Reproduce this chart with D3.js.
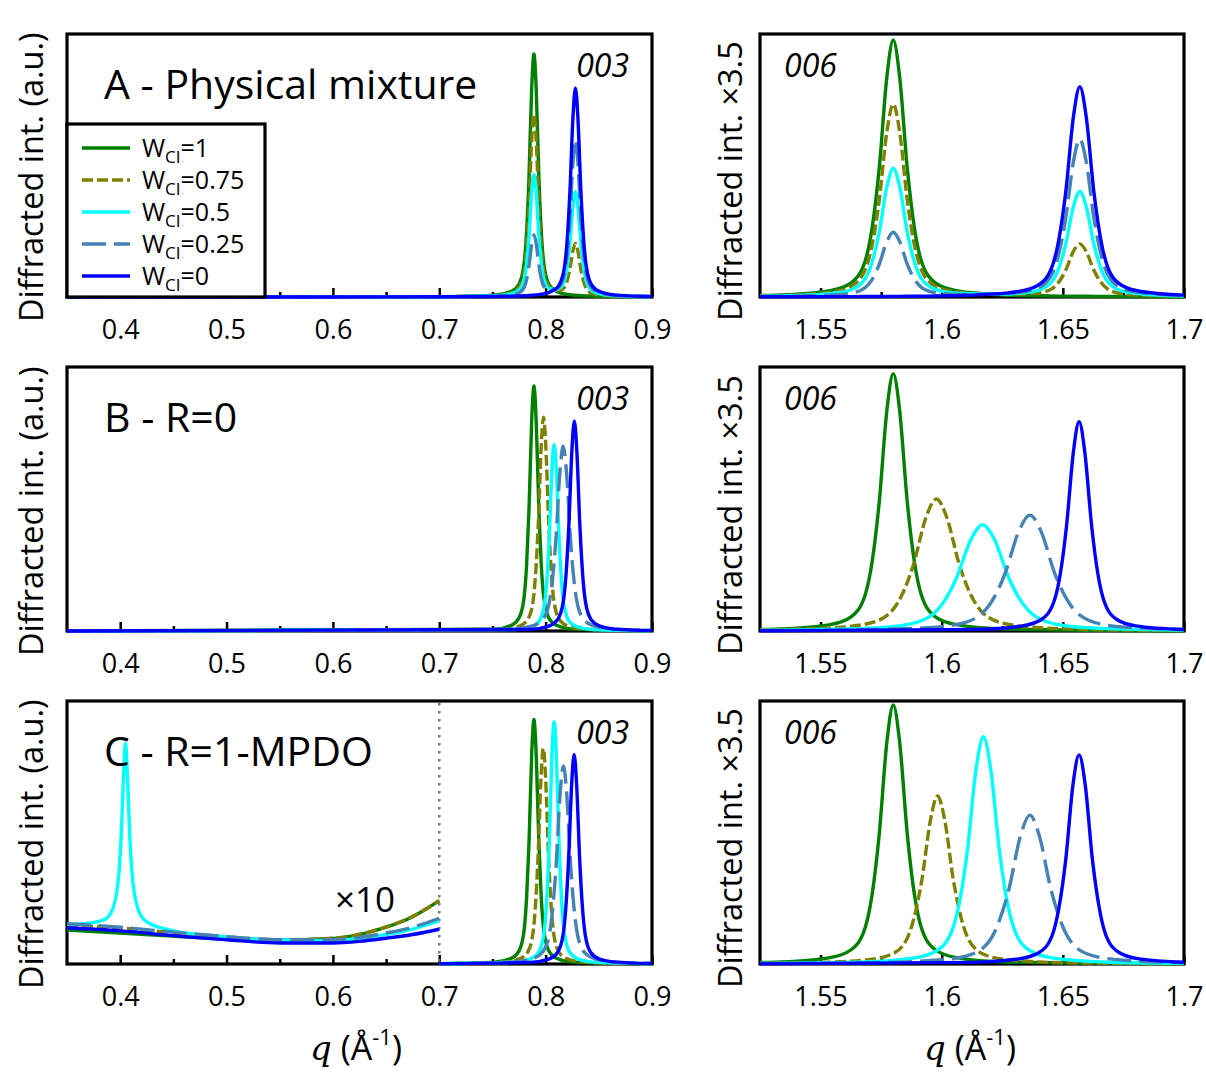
<!DOCTYPE html>
<html><head><meta charset="utf-8">
<script src="https://cdn.jsdelivr.net/npm/d3@7"></script>
<style>body{margin:0;background:#fff} svg{display:block} text{font-family:"Open Sans",sans-serif;fill:#000}</style>
</head><body><svg id="c" width="1206" height="1072"></svg>
<script>
// ---------------- DATA ----------------
const legendValues = ["1", "0.75", "0.5", "0.25", "0"];
const leftTicks = [0.4, 0.5, 0.6, 0.7, 0.8, 0.9];
const leftTickLabels = ["0.4", "0.5", "0.6", "0.7", "0.8", "0.9"];
const leftMinor = [0.45, 0.55, 0.65, 0.75, 0.85];
const rightTicks = [1.55, 1.6, 1.65, 1.7];
const rightTickLabels = ["1.55", "1.6", "1.65", "1.7"];
const rightMinor = [1.575, 1.625, 1.675];
const panelTitles = ["A - Physical mixture", "B - R=0", "C - R=1-MPDO"];

// Panel A, 003 reflection: shared q grid, one intensity list per W_Cl
const qA003 = [0.35,0.6,0.7,0.7522,0.7683,0.7752,0.7798,0.7821,0.7844,0.7869,0.789,0.7911,0.7936,0.7959,0.7982,0.8028,0.8097,0.8124,0.8176,0.8202,0.8228,0.8257,0.828,0.8303,0.8332,0.8358,0.8384,0.8436,0.8514,0.8696,0.9];
const A003 = [
  [0,0.0003,0.0012,0.0072,0.0228,0.0508,0.1294,0.2495,0.462,0.7946,0.924,0.7946,0.462,0.2495,0.1294,0.0508,0.0228,0.0178,0.012,0.01,0.0086,0.0072,0.0064,0.0057,0.005,0.0044,0.004,0.0033,0.0025,0.0015,0.0008],
  [0,0.0003,0.0011,0.0059,0.0179,0.0391,0.0983,0.1885,0.348,0.5976,0.6948,0.5979,0.3488,0.1897,0.1001,0.0423,0.0251,0.0243,0.0368,0.0612,0.1058,0.1763,0.2036,0.1752,0.1031,0.057,0.0308,0.0134,0.0068,0.0027,0.0011],
  [0,0.0003,0.001,0.0046,0.013,0.0274,0.0671,0.1274,0.234,0.4005,0.4656,0.4013,0.2356,0.13,0.0708,0.0339,0.0275,0.0308,0.0617,0.1124,0.2031,0.3455,0.4007,0.3447,0.2013,0.1096,0.0577,0.0235,0.0111,0.0039,0.0015],
  [0,0.0002,0.0008,0.0032,0.008,0.0157,0.036,0.0664,0.1199,0.2035,0.2363,0.2046,0.1223,0.0702,0.0415,0.0254,0.0298,0.0372,0.0865,0.1635,0.3003,0.5146,0.5979,0.5142,0.2994,0.1621,0.0845,0.0336,0.0153,0.005,0.0018],
  [0,0.0002,0.0007,0.0019,0.0031,0.004,0.0048,0.0053,0.0059,0.0064,0.0071,0.0079,0.0091,0.0104,0.0121,0.0169,0.0321,0.0437,0.1113,0.2147,0.3975,0.6837,0.795,0.6837,0.3975,0.2147,0.1113,0.0437,0.0196,0.0062,0.0021]
];
// Panel A, 006 reflection
const qA006 = [1.525,1.5336,1.5539,1.5626,1.5684,1.5713,1.5742,1.5774,1.58,1.5826,1.5858,1.5887,1.5916,1.5974,1.6061,1.6264,1.6309,1.6396,1.6454,1.6483,1.6512,1.6544,1.657,1.6596,1.6628,1.6657,1.6686,1.6744,1.6831,1.7];
const A006 = [
  [0.0054,0.0076,0.0241,0.0537,0.1368,0.2638,0.4885,0.8402,0.977,0.8402,0.4885,0.2638,0.1368,0.0537,0.0241,0.0076,0.0063,0.0046,0.0038,0.0035,0.0032,0.003,0.0028,0.0026,0.0024,0.0022,0.0021,0.0018,0.0015,0.0011],
  [0.0043,0.0059,0.0184,0.0406,0.103,0.1983,0.3669,0.6307,0.7334,0.6308,0.3671,0.1986,0.1034,0.0412,0.0194,0.0094,0.0097,0.0145,0.0309,0.0566,0.1024,0.1743,0.2021,0.174,0.1018,0.0557,0.0296,0.0124,0.0061,0.0027],
  [0.0031,0.0043,0.0127,0.0276,0.0693,0.1328,0.2453,0.4212,0.4897,0.4213,0.2456,0.1334,0.07,0.0288,0.0147,0.0111,0.0131,0.0243,0.0579,0.1098,0.2016,0.3455,0.4014,0.3453,0.2012,0.1091,0.0571,0.0229,0.0107,0.0042],
  [0.002,0.0026,0.007,0.0146,0.0355,0.0673,0.1236,0.2116,0.246,0.2119,0.1241,0.0681,0.0366,0.0163,0.01,0.0129,0.0164,0.0342,0.085,0.1629,0.3008,0.5168,0.6007,0.5167,0.3006,0.1626,0.0845,0.0335,0.0152,0.0058],
  [0.0008,0.0009,0.0013,0.0015,0.0017,0.0018,0.002,0.0021,0.0023,0.0024,0.0027,0.0029,0.0032,0.0038,0.0053,0.0146,0.0198,0.044,0.112,0.216,0.4,0.688,0.8,0.688,0.4,0.216,0.112,0.044,0.0198,0.0073]
];
// Panel B, 003: [q, intensity] per W_Cl
const B003 = [
  [[0.35,0],[0.7522,0.0072],[0.7683,0.0229],[0.7752,0.051],[0.7798,0.1299],[0.7821,0.2506],[0.7844,0.464],[0.7869,0.798],[0.789,0.928],[0.7911,0.798],[0.7936,0.464],[0.7959,0.2506],[0.7982,0.1299],[0.8028,0.051],[0.8097,0.0229],[0.8258,0.0072],[0.9,0.0008]],
  [[0.35,0],[0.7588,0.0063],[0.7759,0.02],[0.7833,0.0446],[0.7882,0.1134],[0.7906,0.2187],[0.7931,0.405],[0.7958,0.6966],[0.798,0.81],[0.8002,0.6966],[0.8029,0.405],[0.8054,0.2187],[0.8078,0.1134],[0.8127,0.0446],[0.8201,0.02],[0.8372,0.0063],[0.9,0.0009]],
  [[0.35,0],[0.7712,0.0055],[0.7873,0.0175],[0.7942,0.0389],[0.7988,0.099],[0.8011,0.1909],[0.8034,0.3535],[0.8059,0.608],[0.808,0.707],[0.8101,0.608],[0.8126,0.3535],[0.8149,0.1909],[0.8172,0.099],[0.8218,0.0389],[0.8287,0.0175],[0.8448,0.0055],[0.9,0.0009]],
  [[0.35,0],[0.7621,0.0055],[0.7859,0.0173],[0.7961,0.0385],[0.8029,0.098],[0.8063,0.189],[0.8097,0.35],[0.8134,0.602],[0.8165,0.7],[0.8196,0.602],[0.8233,0.35],[0.8267,0.189],[0.8301,0.098],[0.8369,0.0385],[0.8471,0.0173],[0.8709,0.0055],[0.9,0.0023]],
  [[0.35,0],[0.7854,0.0062],[0.8036,0.0197],[0.8114,0.0438],[0.8166,0.1114],[0.8192,0.2149],[0.8218,0.398],[0.8247,0.6846],[0.827,0.796],[0.8293,0.6846],[0.8322,0.398],[0.8348,0.2149],[0.8374,0.1114],[0.8426,0.0438],[0.8504,0.0197],[0.8686,0.0062],[0.9,0.002]]
];
// Panel B, 006
const B006 = [
  [[1.525,0.0054],[1.5336,0.0076],[1.5539,0.0241],[1.5626,0.0536],[1.5684,0.1365],[1.5713,0.2633],[1.5742,0.4875],[1.5774,0.8385],[1.58,0.975],[1.5826,0.8385],[1.5858,0.4875],[1.5887,0.2633],[1.5916,0.1365],[1.5974,0.0536],[1.6061,0.0241],[1.6264,0.0076],[1.7,0.0011]],
  [[1.525,0.0043],[1.555,0.0124],[1.5693,0.0275],[1.5788,0.07],[1.5835,0.135],[1.5883,0.25],[1.5935,0.43],[1.5978,0.5],[1.6021,0.43],[1.6073,0.25],[1.6121,0.135],[1.6168,0.07],[1.6263,0.0275],[1.6406,0.0124],[1.6738,0.0039],[1.7,0.0021]],
  [[1.525,0.0028],[1.5683,0.0099],[1.5845,0.0221],[1.5953,0.0563],[1.6007,0.1085],[1.6061,0.201],[1.612,0.3457],[1.6169,0.402],[1.6218,0.3457],[1.6277,0.201],[1.6331,0.1085],[1.6385,0.0563],[1.6493,0.0221],[1.6655,0.0099],[1.7,0.0034]],
  [[1.525,0.0018],[1.5548,0.0034],[1.5905,0.0108],[1.6058,0.0241],[1.616,0.0615],[1.6211,0.1185],[1.6262,0.2195],[1.6318,0.3775],[1.6364,0.439],[1.641,0.3775],[1.6466,0.2195],[1.6517,0.1185],[1.6568,0.0615],[1.667,0.0241],[1.6823,0.0108],[1.7,0.0056]],
  [[1.525,0.0006],[1.6151,0.0062],[1.6333,0.0196],[1.6411,0.0436],[1.6463,0.111],[1.6489,0.2141],[1.6515,0.3965],[1.6544,0.682],[1.6567,0.793],[1.659,0.682],[1.6619,0.3965],[1.6645,0.2141],[1.6671,0.111],[1.6723,0.0436],[1.6801,0.0196],[1.7,0.0057]]
];
// Panel C, low-q region (shown x10)
const C003low = [
  [[0.35,0.129],[0.4,0.118],[0.45,0.106],[0.5,0.096],[0.55,0.091],[0.6,0.097],[0.625,0.112],[0.65,0.14],[0.675,0.18],[0.7,0.241]],
  [[0.35,0.15],[0.4,0.137],[0.45,0.119],[0.5,0.103],[0.55,0.092],[0.6,0.098],[0.625,0.113],[0.65,0.141],[0.675,0.181],[0.7,0.241]],
  [[0.35,0.151],[0.365,0.153],[0.385,0.169],[0.393,0.21],[0.397,0.28],[0.399,0.355],[0.401,0.489],[0.403,0.699],[0.405,0.839],[0.407,0.699],[0.409,0.488],[0.411,0.353],[0.413,0.277],[0.417,0.206],[0.425,0.16],[0.445,0.131],[0.5,0.103],[0.55,0.091],[0.6,0.089],[0.625,0.098],[0.65,0.112],[0.675,0.133],[0.7,0.165]],
  [[0.35,0.153],[0.4,0.14],[0.45,0.121],[0.5,0.104],[0.55,0.092],[0.6,0.092],[0.625,0.101],[0.65,0.118],[0.675,0.14],[0.7,0.174]],
  [[0.35,0.138],[0.4,0.126],[0.45,0.108],[0.5,0.092],[0.55,0.08],[0.6,0.08],[0.625,0.086],[0.65,0.098],[0.675,0.112],[0.7,0.132]]
];
// Panel C, 003 region
const C003 = [
  [[0.7,0.0012],[0.7522,0.0073],[0.7683,0.023],[0.7752,0.0512],[0.7798,0.1302],[0.7821,0.2511],[0.7844,0.465],[0.7869,0.7998],[0.789,0.93],[0.7911,0.7998],[0.7936,0.465],[0.7959,0.2511],[0.7982,0.1302],[0.8028,0.0512],[0.8097,0.023],[0.8258,0.0073],[0.9,0.0008]],
  [[0.7,0.001],[0.7586,0.0064],[0.7757,0.0203],[0.7831,0.0451],[0.788,0.1148],[0.7904,0.2214],[0.7929,0.41],[0.7956,0.7052],[0.7978,0.82],[0.8,0.7052],[0.8027,0.41],[0.8052,0.2214],[0.8076,0.1148],[0.8125,0.0451],[0.8199,0.0203],[0.837,0.0064],[0.9,0.0009]],
  [[0.7,0.0008],[0.7712,0.0072],[0.7873,0.0227],[0.7942,0.0506],[0.7988,0.1288],[0.8011,0.2484],[0.8034,0.46],[0.8059,0.7912],[0.808,0.92],[0.8101,0.7912],[0.8126,0.46],[0.8149,0.2484],[0.8172,0.1288],[0.8218,0.0506],[0.8287,0.0227],[0.8448,0.0072],[0.9,0.0012]],
  [[0.7,0.0013],[0.7623,0.0059],[0.7861,0.0186],[0.7963,0.0414],[0.8031,0.1054],[0.8065,0.2033],[0.8099,0.3765],[0.8136,0.6476],[0.8167,0.753],[0.8198,0.6476],[0.8235,0.3765],[0.8269,0.2033],[0.8303,0.1054],[0.8371,0.0414],[0.8473,0.0186],[0.8711,0.0059],[0.9,0.0025]],
  [[0.7,0.0007],[0.7852,0.0062],[0.8034,0.0197],[0.8112,0.0438],[0.8164,0.1116],[0.819,0.2152],[0.8216,0.3985],[0.8245,0.6854],[0.8268,0.797],[0.8291,0.6854],[0.832,0.3985],[0.8346,0.2152],[0.8372,0.1116],[0.8424,0.0438],[0.8502,0.0197],[0.8684,0.0062],[0.9,0.002]]
];
// Panel C, 006
const C006 = [
  [[1.525,0.0055],[1.5336,0.0077],[1.5539,0.0243],[1.5626,0.0542],[1.5684,0.1379],[1.5713,0.266],[1.5742,0.4925],[1.5774,0.8471],[1.58,0.985],[1.5826,0.8471],[1.5858,0.4925],[1.5887,0.266],[1.5916,0.1379],[1.5974,0.0542],[1.6061,0.0243],[1.6264,0.0077],[1.7,0.0012]],
  [[1.525,0.0025],[1.5463,0.005],[1.569,0.0158],[1.5788,0.0351],[1.5853,0.0895],[1.5885,0.1725],[1.5918,0.3195],[1.5954,0.5495],[1.5983,0.639],[1.6012,0.5495],[1.6048,0.3195],[1.6081,0.1725],[1.6113,0.0895],[1.6178,0.0351],[1.6276,0.0158],[1.6503,0.005],[1.7,0.0013]],
  [[1.525,0.0022],[1.5644,0.0067],[1.5875,0.0213],[1.5974,0.0475],[1.604,0.121],[1.6073,0.2333],[1.6106,0.432],[1.6142,0.743],[1.6172,0.864],[1.6202,0.743],[1.6238,0.432],[1.6271,0.2333],[1.6304,0.121],[1.637,0.0475],[1.6469,0.0213],[1.67,0.0067],[1.7,0.0028]],
  [[1.525,0.0017],[1.5668,0.0044],[1.5972,0.014],[1.6103,0.0311],[1.619,0.0792],[1.6233,0.1528],[1.6277,0.283],[1.6325,0.4868],[1.6364,0.566],[1.6403,0.4868],[1.6451,0.283],[1.6495,0.1528],[1.6538,0.0792],[1.6625,0.0311],[1.6756,0.014],[1.7,0.0053]],
  [[1.525,0.0006],[1.6127,0.0062],[1.6319,0.0196],[1.6402,0.0437],[1.6457,0.1113],[1.6484,0.2147],[1.6512,0.3975],[1.6542,0.6837],[1.6567,0.795],[1.6592,0.6837],[1.6622,0.3975],[1.665,0.2147],[1.6677,0.1113],[1.6732,0.0437],[1.6815,0.0196],[1.7,0.0064]]
];

// ---------------- STYLE ----------------
const colors = ["#008000", "#808000", "#00ffff", "#4682b4", "#0000ff"];
const dashes = [null, "11,4", null, "24,8", null];
const LW = 3.4;
const leftX = [67, 652], rightX = [760, 1184];
const rows = [{top: 34, bot: 297}, {top: 367, bot: 631}, {top: 701, bot: 964}];

const svg = d3.select("#c");
const defs = svg.append("defs");
let clipId = 0;

function pairs(q, vals) { return vals.map((v, i) => [q[i], v]); }

function drawPanel(side, row, seriesSets, opts) {
  const xr = side === "L" ? leftX : rightX;
  const domain = side === "L" ? [0.35, 0.9] : [1.525, 1.7];
  const x = d3.scaleLinear().domain(domain).range(xr);
  const y = d3.scaleLinear().domain([0, 1]).range([row.bot, row.top]);
  const g = svg.append("g");
  const majors = side === "L" ? leftTicks : rightTicks;
  const labels = side === "L" ? leftTickLabels : rightTickLabels;
  const minors = side === "L" ? leftMinor : rightMinor;
  const ax = g.append("g").attr("transform", `translate(0,${row.bot})`)
    .call(d3.axisBottom(x).tickValues(majors).tickSize(-9).tickPadding(23)
      .tickFormat((d, i) => labels[i]));
  ax.select(".domain").remove();
  ax.selectAll("line").attr("stroke-width", 2.5);
  ax.selectAll("text").style("font-family", '"Open Sans",sans-serif').style("font-size", "27px");
  const mx = g.append("g").attr("transform", `translate(0,${row.bot})`)
    .call(d3.axisBottom(x).tickValues(minors).tickSize(-5).tickFormat(""));
  mx.select(".domain").remove();
  mx.selectAll("line").attr("stroke-width", 2.5);
  g.append("rect").attr("x", xr[0]).attr("y", row.top).attr("width", xr[1] - xr[0])
    .attr("height", row.bot - row.top).attr("fill", "none").attr("stroke", "#000").attr("stroke-width", 3.2);
  const cid = "clip" + (clipId++);
  defs.append("clipPath").attr("id", cid).append("rect")
    .attr("x", xr[0]).attr("y", row.top).attr("width", xr[1] - xr[0]).attr("height", row.bot - row.top + 2);
  if (opts && opts.dotted) {
    g.append("line").attr("x1", x(0.7)).attr("x2", x(0.7)).attr("y1", row.top + 2).attr("y2", row.bot)
      .attr("stroke", "#777").attr("stroke-width", 2.5).attr("stroke-dasharray", "2.5,5.5");
  }
  const line = d3.line().x(d => x(d[0])).y(d => y(d[1])).curve(d3.curveMonotoneX);
  const cg = g.append("g").attr("clip-path", `url(#${cid})`);
  for (let s = 0; s < 5; s++) {
    seriesSets.forEach(set => {
      cg.append("path").attr("d", line(set[s])).attr("fill", "none")
        .attr("stroke", colors[s]).attr("stroke-width", LW)
        .attr("stroke-linejoin", "round")
        .attr("stroke-dasharray", dashes[s]);
    });
  }
  return {x, y, g};
}

drawPanel("L", rows[0], [A003.map(v => pairs(qA003, v))]);
drawPanel("R", rows[0], [A006.map(v => pairs(qA006, v))]);
drawPanel("L", rows[1], [B003]);
drawPanel("R", rows[1], [B006]);
drawPanel("L", rows[2], [C003low, C003], {dotted: true});
drawPanel("R", rows[2], [C006]);

rows.forEach((r, i) => {
  svg.append("text").attr("x", 104).attr("y", r.top + 65).style("font-size", "41px").text(panelTitles[i]);
  svg.append("text").attr("x", 629).attr("y", r.top + 43).attr("text-anchor", "end")
    .style("font-size", "32px").style("font-style", "italic").text("003");
  svg.append("text").attr("x", 784).attr("y", r.top + 43)
    .style("font-size", "32px").style("font-style", "italic").text("006");
  svg.append("text").attr("transform", `translate(43,${r.bot + 25}) rotate(-90)`)
    .style("font-size", "32.5px").text("Diffracted int. (a.u.)");
  svg.append("text").attr("transform", `translate(742,${r.bot + 24}) rotate(-90)`)
    .style("font-size", "32.5px").text("Diffracted int. \u00d73.5");
});
svg.append("text").attr("x", 335).attr("y", 912).style("font-size", "35px").text("\u00d710");

// Legend
const lg = svg.append("g");
lg.append("rect").attr("x", 67).attr("y", 124).attr("width", 198).attr("height", 173)
  .attr("fill", "#fff").attr("stroke", "#000").attr("stroke-width", 3.2);
legendValues.forEach((v, i) => {
  const yy = 148 + i * 32;
  lg.append("line").attr("x1", 82).attr("x2", 130).attr("y1", yy).attr("y2", yy)
    .attr("stroke", colors[i]).attr("stroke-width", LW).attr("stroke-dasharray", dashes[i]);
  const t = lg.append("text").attr("x", 142).attr("y", yy + 9).style("font-size", "25px");
  t.append("tspan").text("W");
  t.append("tspan").attr("dy", 6).style("font-size", "17px").text("CI");
  t.append("tspan").attr("dy", -6).text("=" + v);
});

// x axis titles
[356, 970].forEach(cx => {
  const t = svg.append("text").attr("x", cx).attr("y", 1060).attr("text-anchor", "middle").style("font-size", "34px");
  t.append("tspan").style("font-family", '"DejaVu Serif",serif').style("font-style", "italic").text("q");
  t.append("tspan").text(" (\u00c5");
  t.append("tspan").attr("dy", -15).style("font-size", "22px").text("-1");
  t.append("tspan").attr("dy", 15).text(")");
});
</script></body></html>
